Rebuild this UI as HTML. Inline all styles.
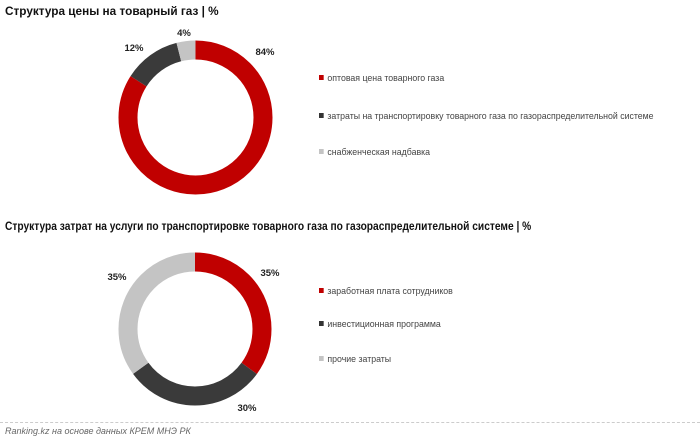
<!DOCTYPE html>
<html><head><meta charset="utf-8"><style>
body{margin:0;width:700px;height:443px;background:#fff;position:relative;overflow:hidden;font-family:"Liberation Sans","DejaVu Sans",sans-serif;}
.t{position:absolute;left:5px;font-weight:bold;font-size:11.5px;color:#111;white-space:nowrap;transform-origin:left center;}
.lg{position:absolute;left:319px;font-size:9.4px;color:#444;white-space:nowrap;line-height:12px;transform:scaleX(0.935);transform-origin:left center;}
.lg i{display:inline-block;width:5px;height:5px;margin-right:4px;vertical-align:1px;}
.f{position:absolute;left:5px;top:426px;font-size:9px;font-style:italic;color:#666;}
.ln{position:absolute;left:0;top:422px;width:700px;border-top:1px dashed #ccc;}
</style></head><body>
<div class="t" style="top:6px;transform:scaleX(1.025)">Структура цены на товарный газ | %</div>
<div class="t" style="top:221px;transform:scaleX(0.887)">Структура затрат на услуги по транспортировке товарного газа по газораспределительной системе | %</div>
<svg width="700" height="443" style="position:absolute;left:0;top:0">
<g transform="translate(195.5,117.5) rotate(-90)" fill="none" stroke-width="19">
<circle r="67.5" stroke="#c00000" stroke-dasharray="356.2 424.1"/>
<circle r="67.5" stroke="#3a3a3a" stroke-dasharray="0 356.2 50.9 424.1"/>
<circle r="67.5" stroke="#c4c4c4" stroke-dasharray="0 407.1 17 424.1"/>
</g>
<g transform="translate(195,329) rotate(-90)" fill="none" stroke-width="19">
<circle r="67" stroke="#c00000" stroke-dasharray="147.3 421"/>
<circle r="67" stroke="#3a3a3a" stroke-dasharray="0 147.3 126.3 421"/>
<circle r="67" stroke="#c4c4c4" stroke-dasharray="0 273.6 147.4 421"/>
</g>
<g font-size="9.5" font-weight="bold" fill="#222" text-anchor="middle" font-family="Liberation Sans,sans-serif">
<text x="265" y="55">84%</text><text x="134" y="51">12%</text><text x="184" y="36">4%</text>
<text x="270" y="276">35%</text><text x="117" y="280">35%</text><text x="247" y="411">30%</text>
</g>
</svg>
<div class="lg" style="top:72px"><i style="background:#c00000"></i>оптовая цена товарного газа</div>
<div class="lg" style="top:110px"><i style="background:#333"></i>затраты на транспортировку товарного газа по газораспределительной системе</div>
<div class="lg" style="top:146px"><i style="background:#c4c4c4"></i>снабженческая надбавка</div>
<div class="lg" style="top:285px"><i style="background:#c00000"></i>заработная плата сотрудников</div>
<div class="lg" style="top:318px"><i style="background:#333"></i>инвестиционная программа</div>
<div class="lg" style="top:353px"><i style="background:#c4c4c4"></i>прочие затраты</div>
<div class="ln"></div>
<div class="f">Ranking.kz на основе данных КРЕМ МНЭ РК</div>
</body></html>
